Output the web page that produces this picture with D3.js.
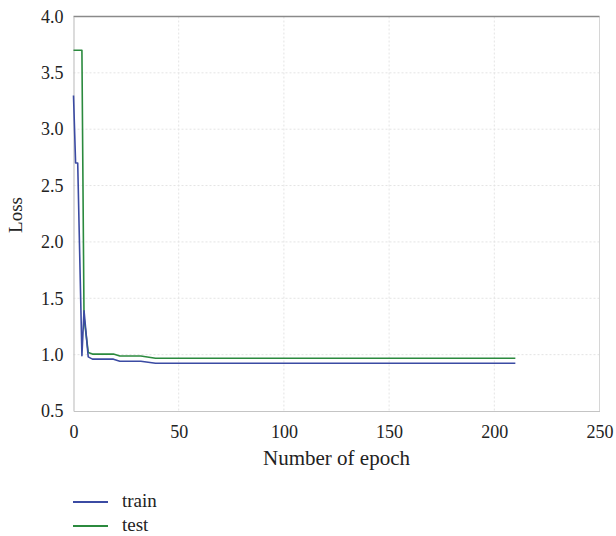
<!DOCTYPE html>
<html>
<head>
<meta charset="utf-8">
<script src="https://cdn.jsdelivr.net/npm/d3@7"></script>
<style>
  html, body { margin: 0; padding: 0; background: #fff; }
  svg { display: block; }
  svg text { font-family: 'Liberation Serif', 'Times New Roman', serif; fill: #222; }
</style>
</head>
<body>
<svg id="chart" width="616" height="536"></svg>
<script>
// ---- data ----
const trainEpochs = [0, 1, 2, 4, 5, 7, 9, 19, 22, 32, 39, 210];
const trainLoss   = [3.3, 2.7, 2.7, 0.99, 1.39, 0.98, 0.96, 0.96, 0.942, 0.942, 0.923, 0.923];
const testEpochs  = [0, 4, 5, 7, 9, 19, 22, 32, 39, 210];
const testLoss    = [3.7, 3.7, 1.33, 1.02, 1.005, 1.005, 0.988, 0.988, 0.968, 0.968];
const xTicks = [0, 50, 100, 150, 200, 250];
const yTicks = [0.5, 1.0, 1.5, 2.0, 2.5, 3.0, 3.5, 4.0];
const seriesNames = ["train", "test"];
const seriesColors = ["#3b4ba3", "#2b8a3e"];

// ---- layout ----
const svg = d3.select("#chart");
const plotL = 73.5, plotR = 599.5, plotT = 16.5, plotB = 411;
const x = d3.scaleLinear().domain([0, 250]).range([plotL, plotR]);
const y = d3.scaleLinear().domain([0.5, 4.0]).range([plotB, plotT]);
const font = "'Liberation Serif', 'Times New Roman', serif";

// gridlines
svg.append("g").selectAll("line")
  .data(yTicks.slice(1, -1)).join("line")
  .attr("x1", plotL).attr("x2", plotR)
  .attr("y1", d => y(d)).attr("y2", d => y(d))
  .attr("stroke", "#e4e4e4").attr("stroke-width", 1).attr("stroke-dasharray", "2,2");
svg.append("g").selectAll("line")
  .data(xTicks.slice(1, -1)).join("line")
  .attr("x1", d => x(d)).attr("x2", d => x(d))
  .attr("y1", plotT).attr("y2", plotB)
  .attr("stroke", "#e4e4e4").attr("stroke-width", 1).attr("stroke-dasharray", "2,2");

// frame
svg.append("line").attr("x1", plotR).attr("x2", plotR).attr("y1", plotT).attr("y2", plotB)
  .attr("stroke", "#d6d6d6").attr("stroke-width", 1);
svg.append("line").attr("x1", plotL).attr("x2", plotR).attr("y1", plotT).attr("y2", plotT)
  .attr("stroke", "#8a8a8a").attr("stroke-width", 1.5);

// axes
const xAxis = svg.append("g").attr("transform", `translate(0,${plotB})`)
  .call(d3.axisBottom(x).tickValues(xTicks).tickSize(0).tickPadding(10).tickFormat(d3.format("d")));
const yAxis = svg.append("g").attr("transform", `translate(${plotL},0)`)
  .call(d3.axisLeft(y).tickValues(yTicks).tickSize(0).tickPadding(10).tickFormat(d3.format(".1f")));
[xAxis, yAxis].forEach(g => {
  g.attr("font-family", font).attr("font-size", 18);
  g.select(".domain").attr("stroke", "#c4c4c4").attr("stroke-width", 1.2);
  g.selectAll("text").style("font-family", font).style("font-size", "18px").style("fill", "#222");
});
xAxis.selectAll("text").attr("dy", "0.95em");

// axis titles
svg.append("text").attr("x", (plotL + plotR) / 2).attr("y", 465)
  .attr("text-anchor", "middle").style("font-size", "21px")
  .text("Number of epoch");
svg.append("text").attr("transform", "translate(22,215) rotate(-90)")
  .attr("text-anchor", "middle").style("font-size", "19px")
  .text("Loss");

// lines
const line = d3.line().x(d => x(d[0])).y(d => y(d[1]));
const series = [
  d3.zip(trainEpochs, trainLoss),
  d3.zip(testEpochs, testLoss)
];
[1, 0].forEach(i => {
  svg.append("path").datum(series[i]).attr("d", line)
    .attr("fill", "none").attr("stroke", seriesColors[i]).attr("stroke-width", 1.6)
    .attr("stroke-linejoin", "round");
});

// legend
const legend = svg.append("g");
seriesNames.forEach((name, i) => {
  const ly = 502 + i * 24;
  legend.append("line").attr("x1", 73).attr("x2", 108).attr("y1", ly).attr("y2", ly)
    .attr("stroke", seriesColors[i]).attr("stroke-width", 2);
  legend.append("text").attr("x", 122).attr("y", ly).attr("dy", "0.28em")
    .style("font-size", "19px").text(name);
});
</script>
</body>
</html>
